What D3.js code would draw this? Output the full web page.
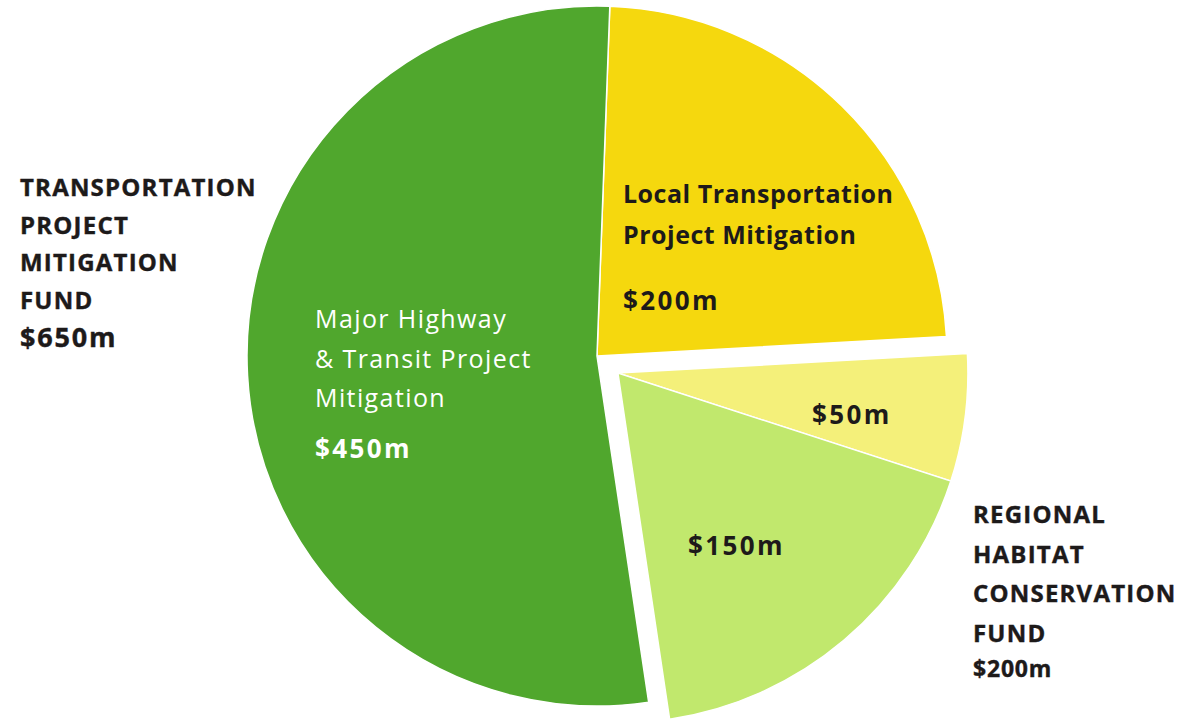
<html>
  <meta charset="utf-8" />
  <script src="https://d3js.org/d3.v7.min.js"></script>
  <style>
    body { margin: 0; background: #fff; }
    text { font-family: "Open Sans", "Noto Sans", sans-serif; }
  </style>
  <body>
    <div id="my_dataviz"></div>

    <script>
      // slices, clockwise from the top
      const categories = ["Local Transportation Project Mitigation", "Habitat (small)", "Habitat (large)", "Major Highway & Transit Project Mitigation"];
      const values = [200, 50, 150, 450];
      const valueLabels = ["$200m", "$50m", "$150m", "$450m"];
      const sliceTitles = [["Local Transportation", "Project Mitigation"], [], [], ["Major Highway", "& Transit Project", "Mitigation"]];
      const explodedSlices = [false, true, true, false];

      // the two funds
      const fundNames = [["TRANSPORTATION", "PROJECT", "MITIGATION", "FUND"], ["REGIONAL", "HABITAT", "CONSERVATION", "FUND"]];
      const fundTotals = ["$650m", "$200m"];

      // styles / layout
      const colors = ["#f5d80e", "#f4f07a", "#c1e86d", "#50a72d"];
      const textColors = ["#1d1a1a", "#1d1a1a", "#1d1a1a", "#ffffff"];
      const cx = 597, cy = 356, radius = 350, explode = 27;
      const startAngle = 2.1 * Math.PI / 180;

      // label placement relative to the pie centre: title x/y, line step, value y
      const sliceLabelPos = [
        { dx: 26, dy: -153, step: 41, vdy: -46, weight: 700, ls: 0.5 },
        { dx: 215, dy: 68, step: 0, vdy: 68, weight: 700, ls: 0.5 },
        { dx: 91, dy: 199, step: 0, vdy: 199, weight: 700, ls: 0.5 },
        { dx: -282, dy: -28, step: 39.5, vdy: 102, weight: 400, ls: 1.4 }
      ];
      const fundPos = [
        { x: 20, y: 196, step: 37.7, ty: 347, tsize: 27, tls: 1.8 },
        { x: 973, y: 523, step: 39.5, ty: 677, tsize: 23, tls: 0.8 }
      ];

      const svg = d3
        .select("#my_dataviz")
        .append("svg")
        .attr("width", 1182)
        .attr("height", 721);

      svg.append("rect").attr("width", 1182).attr("height", 721).attr("fill", "#fff");

      const pie = d3
        .pie()
        .sort(null)
        .value(function (d) { return d; })
        .startAngle(startAngle)
        .endAngle(startAngle + 2 * Math.PI);
      const arcs = pie(values);

      const arc = d3.arc().innerRadius(0).outerRadius(radius);

      // direction for the pulled out group = middle of the exploded slices
      const ex = arcs.filter(function (d, i) { return explodedSlices[i]; });
      const midAngle = (ex[0].startAngle + ex[ex.length - 1].endAngle) / 2;
      const ox = explode * Math.sin(midAngle);
      const oy = -explode * Math.cos(midAngle);

      const g = svg.append("g").attr("transform", `translate(${cx}, ${cy})`);

      g.selectAll("path")
        .data(arcs)
        .enter()
        .append("path")
        .attr("d", arc)
        .attr("transform", function (d, i) {
          return explodedSlices[i] ? `translate(${ox}, ${oy})` : null;
        })
        .attr("fill", function (d, i) { return colors[i]; })
        .attr("stroke", "#fff")
        .attr("stroke-width", 1.5);

      // slice labels
      arcs.forEach(function (d, i) {
        const p = sliceLabelPos[i];
        sliceTitles[i].forEach(function (line, j) {
          g.append("text")
            .attr("x", p.dx)
            .attr("y", p.dy + j * p.step)
            .attr("fill", textColors[i])
            .attr("font-size", 25)
            .attr("font-weight", p.weight)
            .attr("letter-spacing", p.ls)
            .text(line);
        });
        g.append("text")
          .attr("x", p.dx)
          .attr("y", p.vdy)
          .attr("fill", textColors[i])
          .attr("font-size", 26)
          .attr("font-weight", 700)
          .attr("letter-spacing", 2.4)
          .text(valueLabels[i]);
      });

      // fund labels
      fundNames.forEach(function (lines, k) {
        const p = fundPos[k];
        lines.forEach(function (line, j) {
          svg.append("text")
            .attr("x", p.x)
            .attr("y", p.y + j * p.step)
            .attr("fill", "#1d1a1a")
            .attr("stroke", "#1d1a1a")
            .attr("stroke-width", 0.4)
            .attr("font-size", 24)
            .attr("font-weight", 700)
            .attr("letter-spacing", 1.2)
            .text(line);
        });
        svg.append("text")
          .attr("x", p.x)
          .attr("y", p.ty)
          .attr("fill", "#1d1a1a")
          .attr("stroke", "#1d1a1a")
          .attr("stroke-width", 0.4)
          .attr("font-size", p.tsize)
          .attr("font-weight", 700)
          .attr("letter-spacing", p.tls)
          .text(fundTotals[k]);
      });
    </script>
  </body>
</html>
